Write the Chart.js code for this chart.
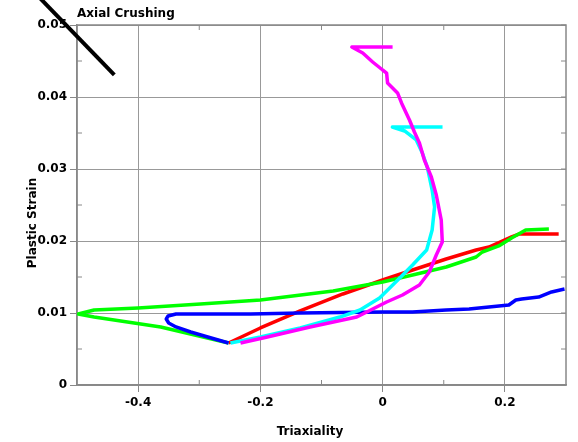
<!DOCTYPE html>
<html>
<head>
<meta charset="utf-8">
<script src="https://cdn.jsdelivr.net/npm/chart.js@4/dist/chart.umd.min.js"></script>
<style>
  body { margin: 0; background: #fff; }
  #wrap { width: 578px; height: 442px; }
</style>
</head>
<body>
<div id="wrap"><canvas id="chart"></canvas></div>
<script>
const xTicks = [-0.4, -0.2, 0, 0.2];
const yTicks = [0, 0.01, 0.02, 0.03, 0.04, 0.05];
const xMinor = [-0.3, -0.1, 0.1];
const yMinor = [0.005, 0.015, 0.025, 0.035, 0.045];

const redX = [-0.252, -0.200, -0.135, -0.065, 0, 0.049, 0.104, 0.153, 0.174, 0.211, 0.223, 0.288];
const redY = [0.00583, 0.00792, 0.01028, 0.01264, 0.01458, 0.01597, 0.0175, 0.01875, 0.01917, 0.02056, 0.02097, 0.02097];

const greenX = [-0.252, -0.363, -0.472, -0.498, -0.472, -0.400, -0.298, -0.200, -0.081, 0, 0.049, 0.104, 0.153, 0.163, 0.190, 0.211, 0.234, 0.272];
const greenY = [0.00583, 0.00806, 0.00944, 0.00986, 0.01042, 0.01069, 0.01125, 0.01181, 0.01306, 0.01431, 0.01528, 0.01639, 0.01778, 0.01847, 0.01931, 0.02042, 0.02153, 0.02167];

const blueX = [0.2976, 0.2764, 0.2553, 0.2276, 0.2179, 0.2065, 0.174, 0.1415, 0.104, 0.0488, 0, -0.135, -0.216, -0.338, -0.351, -0.354, -0.350, -0.338, -0.314, -0.286, -0.252];
const blueY = [0.01333, 0.01292, 0.01222, 0.01194, 0.01181, 0.01111, 0.01083, 0.01056, 0.01042, 0.01014, 0.01014, 0.0100, 0.00986, 0.00986, 0.00958, 0.00917, 0.00861, 0.00806, 0.00736, 0.00667, 0.00583];

const cyanX = [-0.249, -0.2, -0.135, -0.070, -0.037, -0.005, 0.028, 0.049, 0.072, 0.081, 0.085, 0.081, 0.073, 0.065, 0.055, 0.036, 0.016, 0.098];
const cyanY = [0.00583, 0.00667, 0.00792, 0.00944, 0.01042, 0.01208, 0.01486, 0.01667, 0.01875, 0.02153, 0.02472, 0.02708, 0.03028, 0.03222, 0.03403, 0.03528, 0.03583, 0.03583];

const magentaX = [-0.2325, -0.1886, -0.1187, -0.0423, -0.026, 0.0065, 0.0325, 0.0602, 0.0764, 0.0878, 0.0976, 0.0959, 0.0878, 0.0797, 0.0683, 0.0602, 0.052, 0.0439, 0.0309, 0.0244, 0.0081, 0.0065, 0, -0.0163, -0.0325, -0.0504, 0.0163];
const magentaY = [0.00583, 0.00667, 0.00806, 0.00944, 0.01014, 0.01153, 0.0125, 0.01389, 0.01569, 0.01806, 0.01986, 0.02292, 0.02639, 0.02889, 0.03125, 0.03361, 0.03514, 0.03681, 0.03917, 0.04056, 0.04194, 0.04333, 0.04375, 0.04486, 0.04611, 0.04694, 0.04694];

const blackX = [-0.6, -0.439];
const blackY = [0.0572, 0.04306];

const font = '"DejaVu Sans", sans-serif';

function pts(xs, ys) {
  return xs.map((x, i) => ({ x, y: ys[i] }));
}

function line(xs, ys, color, extra) {
  return Object.assign({
    data: pts(xs, ys),
    showLine: true,
    borderColor: color,
    backgroundColor: color,
    borderWidth: 3.5,
    borderJoinStyle: 'round',
    pointRadius: 0,
    tension: 0,
    fill: false
  }, extra || {});
}

// frame, minor ticks and texts
const frame = {
  id: 'frame',
  beforeDatasetsDraw(chart) {
    const { ctx, chartArea: a, scales: { x, y } } = chart;
    ctx.save();
    ctx.strokeStyle = '#888';
    ctx.lineWidth = 1.5;
    ctx.strokeRect(a.left, a.top, a.right - a.left, a.bottom - a.top);
    ctx.lineWidth = 1;
    ctx.beginPath();
    xMinor.forEach(v => {
      const p = x.getPixelForValue(v);
      ctx.moveTo(p, a.bottom); ctx.lineTo(p, a.bottom - 5);
      ctx.moveTo(p, a.top); ctx.lineTo(p, a.top + 5);
    });
    yMinor.forEach(v => {
      const p = y.getPixelForValue(v);
      ctx.moveTo(a.left, p); ctx.lineTo(a.left + 5, p);
      ctx.moveTo(a.right, p); ctx.lineTo(a.right - 5, p);
    });
    yTicks.forEach(v => {
      const p = y.getPixelForValue(v);
      ctx.moveTo(a.right, p); ctx.lineTo(a.right - 5, p);
    });
    ctx.stroke();
    ctx.restore();
  },
  afterDraw(chart) {
    const { ctx, chartArea: a } = chart;
    ctx.save();
    ctx.fillStyle = '#000';
    ctx.font = 'bold 12px ' + font;
    ctx.textBaseline = 'middle';
    ctx.textAlign = 'left';
    ctx.fillText('Axial Crushing', a.left, 14);
    ctx.textAlign = 'center';
    ctx.fillText('Triaxiality', 310, 432);
    ctx.translate(33, 223);
    ctx.rotate(-Math.PI / 2);
    ctx.fillText('Plastic Strain', 0, 0);
    ctx.restore();
  }
};

new Chart(document.getElementById('chart'), {
  type: 'scatter',
  data: {
    datasets: [
      line(blackX, blackY, '#000000', { clip: false, borderWidth: 4 }),
      line(magentaX, magentaY, '#ff00ff'),
      line(cyanX, cyanY, '#00ffff'),
      line(blueX, blueY, '#0000ff'),
      line(greenX, greenY, '#00ff00'),
      line(redX, redY, '#ff0000')
    ]
  },
  options: {
    responsive: true,
    maintainAspectRatio: false,
    animation: false,
    layout: { padding: { top: 25, right: 12, left: 0, bottom: 0 } },
    plugins: { legend: { display: false }, tooltip: { enabled: false } },
    scales: {
      x: {
        type: 'linear',
        min: -0.5,
        max: 0.3,
        afterBuildTicks: s => { s.ticks = xTicks.map(v => ({ value: v })); },
        afterFit: s => { s.height = 57; },
        ticks: {
          callback: v => String(v),
          color: '#000',
          font: { family: font, size: 12, weight: 'bold' },
          padding: 4,
          maxRotation: 0,
          autoSkip: false
        },
        grid: { color: '#999', tickColor: '#888', tickLength: 7 },
        border: { color: '#888', width: 1.5 }
      },
      y: {
        type: 'linear',
        min: 0,
        max: 0.05,
        afterBuildTicks: s => { s.ticks = yTicks.map(v => ({ value: v })); },
        afterFit: s => { s.width = 77; },
        ticks: {
          callback: v => String(v),
          color: '#000',
          font: { family: font, size: 12, weight: 'bold' },
          padding: 3,
          autoSkip: false
        },
        grid: { color: '#999', tickColor: '#888', tickLength: 7 },
        border: { color: '#888', width: 1.5 }
      }
    }
  },
  plugins: [frame]
});
</script>
</body>
</html>
